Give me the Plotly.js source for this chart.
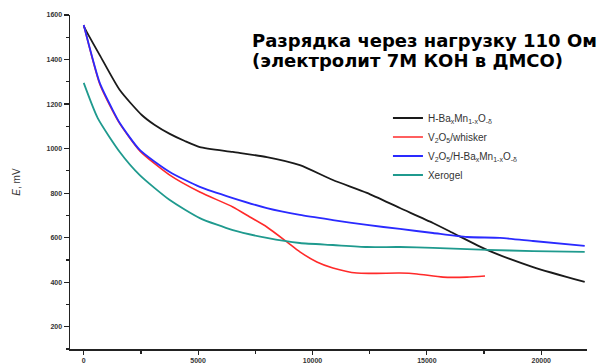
<!DOCTYPE html>
<html>
<head>
<meta charset="utf-8">
<script src="https://cdn.plot.ly/plotly-3.0.1.min.js"></script>
<style>html,body{margin:0;padding:0;background:#fff;}#chart{width:613px;height:363px;}</style>
</head>
<body>
<div id="chart"></div>
<script>
// Series data (time, s ; E, mV)
var blackX = [0, 130, 700, 1575, 2537, 3105, 3762, 4418, 5074, 6518, 8005, 9449, 10892, 12380, 13823, 15267, 16142, 17629, 19641, 21900];
var blackY = [1550, 1524, 1420, 1263, 1151, 1106, 1066, 1034, 1007, 985, 962, 926, 859, 801, 733, 666, 621, 545, 468, 401];

var redX = [0, 700, 1269, 1575, 2450, 3762, 5074, 6518, 7262, 8005, 8880, 9449, 10192, 10892, 11942, 13823, 14567, 15704, 16754, 17541];
var redY = [1555, 1290, 1168, 1112, 990, 881, 805, 738, 693, 648, 581, 536, 491, 464, 441, 441, 437, 423, 423, 428];

var blueX = [0, 700, 1269, 1575, 2450, 3762, 5074, 6518, 8005, 9449, 10892, 12380, 13823, 15267, 16754, 18198, 19641, 21900];
var blueY = [1555, 1295, 1173, 1115, 994, 895, 828, 778, 733, 702, 679, 657, 639, 621, 603, 599, 585, 563];

var tealX = [0, 612, 1575, 2450, 3762, 5074, 6518, 8005, 9449, 10892, 12380, 13823, 15267, 17629, 19641, 21900];
var tealY = [1295, 1137, 985, 881, 769, 688, 634, 599, 576, 567, 558, 558, 554, 545, 540, 536];

var seriesNames = [
  'H-Ba<sub>x</sub>Mn<sub>1-x</sub>O<sub>-δ</sub>',
  'V<sub>2</sub>O<sub>5</sub>/whisker',
  'V<sub>2</sub>O<sub>5</sub>/H-Ba<sub>x</sub>Mn<sub>1-x</sub>O<sub>-δ</sub>',
  'Xerogel'
];
var xTicks = [0, 5000, 10000, 15000, 20000];
var yTicks = [200, 400, 600, 800, 1000, 1200, 1400, 1600];
var titleLine1 = 'Разрядка через нагрузку 110 Ом';
var titleLine2 = '(электролит 7М КОН в ДМСО)';

var traces = [
  {x: blackX, y: blackY, name: seriesNames[0], line: {color: '#1a1a1a', width: 1.8}},
  {x: redX, y: redY, name: seriesNames[1], line: {color: '#ff2a2a', width: 1.6}},
  {x: blueX, y: blueY, name: seriesNames[2], line: {color: '#2a2aff', width: 1.8}},
  {x: tealX, y: tealY, name: seriesNames[3], line: {color: '#1f9a8e', width: 1.8}}
].map(function(t){ t.type='scatter'; t.mode='lines'; t.line.shape='spline'; t.line.smoothing=0.6; return t; });

var tickFont = {family: 'Liberation Sans, Arial, sans-serif', size: 7, color: '#333', weight: 'bold'};

var layout = {
  width: 613, height: 363,
  margin: {l: 70, r: 26, t: 15, b: 14},
  paper_bgcolor: '#fff', plot_bgcolor: '#fff',
  showlegend: true,
  legend: {
    x: 0.615, y: 0.735, xanchor: 'left', yanchor: 'top',
    bgcolor: 'rgba(0,0,0,0)',
    font: {family: 'Liberation Sans, Arial, sans-serif', size: 10, color: '#333'},
    tracegroupgap: 0, itemwidth: 30
  },
  xaxis: {
    range: [-600, 22000], showgrid: false, zeroline: false,
    showline: true, linecolor: '#222', linewidth: 1.5,
    ticks: 'outside', ticklen: 4, tickwidth: 1.2, tickcolor: '#222',
    tickvals: xTicks, ticktext: xTicks.map(String), tickfont: tickFont,
    minor: {dtick: 2500, ticks: 'outside', ticklen: 3, tickcolor: '#222'}
  },
  yaxis: {
    range: [100, 1600], showgrid: false, zeroline: false,
    showline: true, linecolor: '#222', linewidth: 1.5,
    ticks: 'outside', ticklen: 5, tickwidth: 1.2, tickcolor: '#222',
    tickvals: yTicks, ticktext: yTicks.map(String), tickfont: tickFont,
    minor: {dtick: 100, ticks: 'outside', ticklen: 3, tickcolor: '#222'},
    title: {text: '<i>E</i>, mV', font: {family: 'Liberation Sans, Arial, sans-serif', size: 10, color: '#333'}, standoff: 24}
  },
  annotations: [
    {xref: 'paper', yref: 'paper', x: 0.348, y: 0.962, xanchor: 'left', yanchor: 'top', showarrow: false,
     text: '<b>' + titleLine1 + '</b>', font: {family: 'DejaVu Sans, Verdana, sans-serif', size: 18, color: '#000'}},
    {xref: 'paper', yref: 'paper', x: 0.348, y: 0.902, xanchor: 'left', yanchor: 'top', showarrow: false,
     text: '<b>' + titleLine2 + '</b>', font: {family: 'DejaVu Sans, Verdana, sans-serif', size: 18, color: '#000'}}
  ]
};

Plotly.newPlot('chart', traces, layout, {displayModeBar: false, staticPlot: true});
</script>
</body>
</html>
